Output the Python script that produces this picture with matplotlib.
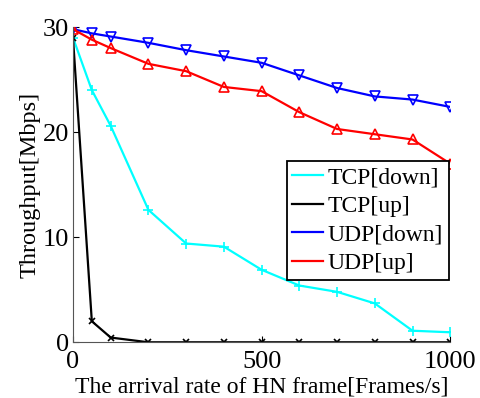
import numpy as np
import matplotlib
matplotlib.use('Agg')
import matplotlib.pyplot as plt

plt.rcParams['font.family'] = ['Liberation Serif', 'DejaVu Serif']
plt.rcParams['mathtext.fontset'] = 'stix'

rate = [0, 50, 100, 200, 300, 400, 500, 600, 700, 800, 900, 1000]
tcp_down = [29.0, 24.0, 20.6, 12.6, 9.4, 9.1, 6.9, 5.4, 4.8, 3.7, 1.1, 0.95]
tcp_up = [29.0, 2.0, 0.45, 0.0, 0.0, 0.0, 0.0, 0.0, 0.0, 0.0, 0.0, 0.0]
udp_down = [29.8, 29.4, 29.1, 28.5, 27.8, 27.2, 26.6, 25.4, 24.2, 23.4, 23.1, 22.4]
udp_up = [29.8, 28.8, 28.0, 26.5, 25.8, 24.3, 23.9, 21.9, 20.3, 19.8, 19.3, 17.0]

fig = plt.figure(figsize=(4.8, 3.98), dpi=100)
ax = fig.add_axes([0.152, 0.14, 0.786, 0.792])

lw = 1.6
ms = 7
ax.plot(rate, tcp_down, color='cyan', lw=lw, marker='+', ms=ms, mew=1.2, label='TCP[down]')
ax.plot(rate, tcp_up, color='black', lw=lw, marker='x', ms=5, mew=1.2, label='TCP[up]')
ax.plot(rate, udp_down, color='blue', lw=lw, marker='v', ms=ms, mfc='none', mew=1.2, label='UDP[down]')
ax.plot(rate, udp_up, color='red', lw=lw, marker='^', ms=ms, mfc='none', mew=1.2, label='UDP[up]')

ax.set_xlim(0, 1000)
ax.set_ylim(0, 30)
ax.set_xticks([0, 500, 1000])
ax.set_yticks([0, 10, 20, 30])
ax.tick_params(direction='in', labelsize=19, length=4)
ax.tick_params(axis='x', pad=6)
ax.tick_params(axis='y', pad=3)
ax.spines['top'].set_visible(False)
ax.spines['right'].set_visible(False)
ax.spines['left'].set_color('#555555')
ax.spines['bottom'].set_color('#555555')

ax.set_xlabel('The arrival rate of HN frame[Frames/s]', fontsize=17, labelpad=3)
ax.set_ylabel('Throughput[Mbps]', fontsize=17.5, labelpad=1)

leg = ax.legend(handles=[h for h in ax.get_lines()], loc='lower right', bbox_to_anchor=(0.997, 0.197),
                fontsize=17, fancybox=False, edgecolor='black', framealpha=1,
                handlelength=1.3, handletextpad=0.2, labelspacing=0.3, borderpad=0.25,
                borderaxespad=0)
for line in leg.get_lines():
    line.set_marker('')
leg.get_frame().set_linewidth(1.3)

fig.savefig('out.png', dpi=100)
